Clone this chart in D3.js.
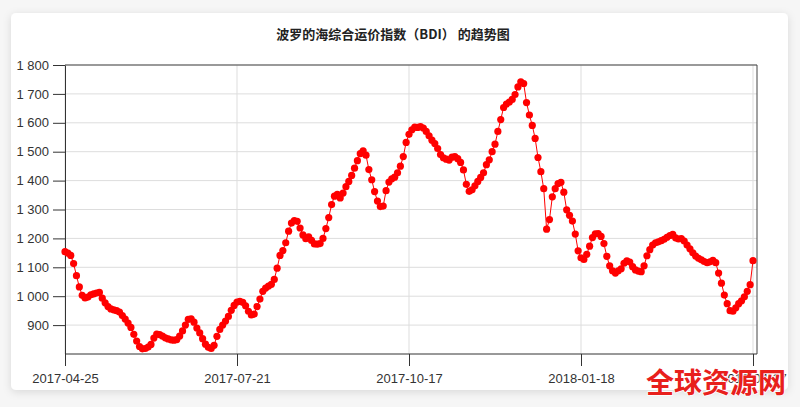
<!DOCTYPE html>
<html>
<head>
<meta charset="utf-8">
<title>BDI</title>
<script src="https://cdn.jsdelivr.net/npm/d3@7"></script>
<style>
  html, body { margin: 0; padding: 0; background: #f6f6f6; }
  svg { display: block; }
  .axis text { font-family: "Liberation Sans", Arial, sans-serif; font-size: 13px; fill: #333; }
  .axis path, .axis line { stroke: #333; }
</style>
</head>
<body>
<div id="chart"></div>
<script>
// data: BDI daily values, one per trading day
const bdiValues = [
  1154, 1149, 1141, 1113, 1071, 1032, 1003, 994, 997, 1005,
  1008, 1011, 1013, 993, 977, 964, 956, 953, 950, 945,
  933, 921, 907, 892, 868, 845, 826, 818, 819, 824,
  833, 855, 869, 867, 862, 856, 852, 849, 848, 850,
  862, 880, 900, 920, 922, 910, 890, 873, 853, 834,
  823, 819, 830, 861, 885, 900, 914, 930, 951, 968,
  980, 982, 979, 967, 948, 935, 938, 964, 990, 1017,
  1028, 1035, 1041, 1058, 1097, 1141, 1158, 1185, 1225, 1253,
  1262, 1259, 1236, 1212, 1199, 1205, 1193, 1181, 1180, 1182,
  1200, 1234, 1272, 1317, 1346, 1352, 1340, 1357, 1379, 1397,
  1418, 1443, 1469, 1493, 1503, 1488, 1438, 1403, 1362, 1329,
  1310, 1312, 1365, 1395, 1406, 1412, 1427, 1450, 1483, 1532,
  1560, 1576, 1585, 1584, 1587, 1582, 1570, 1555, 1540, 1528,
  1511, 1490, 1479, 1474, 1471, 1481, 1483, 1476, 1463, 1437,
  1387, 1363, 1368, 1382, 1397, 1411, 1427, 1455, 1472, 1500,
  1526, 1570, 1611, 1653, 1665, 1672, 1681, 1698, 1724, 1742,
  1736, 1670, 1627, 1591, 1546, 1480, 1431, 1372, 1232, 1265,
  1344, 1372, 1390, 1394, 1360, 1299, 1280, 1260, 1215, 1157,
  1133, 1127, 1145, 1173, 1203, 1216, 1217, 1207, 1182, 1138,
  1105, 1088, 1080, 1088, 1095, 1114, 1122, 1118, 1102, 1091,
  1087, 1085, 1105, 1140, 1161, 1177, 1185, 1188, 1192, 1197,
  1204, 1210, 1214, 1202, 1198, 1199, 1191, 1177, 1164, 1150,
  1139, 1131, 1126, 1120, 1116, 1119, 1124, 1116, 1080, 1045,
  1004, 974, 950, 948, 960, 974, 984, 998, 1017, 1040,
  1123,
]
const xTickIndex = [0, 60, 120, 180, 240]
const xTickLabels = ['2017-04-25', '2017-07-21', '2017-10-17', '2018-01-18', '2018-04-17']
const yTicks = [900, 1000, 1100, 1200, 1300, 1400, 1500, 1600, 1700, 1800]
const yDomain = [800, 1800]
const titleText = '波罗的海综合运价指数（BDI） 的趋势图'
const watermarkText = '全球资源网'

// Dimensions
const dimensions = {
  width: 800,
  height: 407,
  margins: { left: 65, top: 65, right: 43, bottom: 53 },
}
const ctrW = dimensions.width - dimensions.margins.left - dimensions.margins.right
const ctrH = dimensions.height - dimensions.margins.top - dimensions.margins.bottom

// Scales
const xScale = d3.scaleLinear().domain([0, bdiValues.length - 1]).range([0, ctrW - 4])
const yScale = d3.scaleLinear().domain(yDomain).range([ctrH, 0])

const fmt = d3.formatLocale({ decimal: '.', thousands: ' ', grouping: [3], currency: ['', ''] }).format(',d')

const svg = d3.select('#chart').append('svg')
  .attr('width', dimensions.width)
  .attr('height', dimensions.height)

// card with soft shadow
const defs = svg.append('defs')
const filter = defs.append('filter').attr('id', 'shadow').attr('x', '-5%').attr('y', '-5%').attr('width', '110%').attr('height', '115%')
filter.append('feDropShadow').attr('dx', 0).attr('dy', 2).attr('stdDeviation', 4).attr('flood-color', '#000').attr('flood-opacity', 0.12)

svg.append('rect')
  .attr('x', 11).attr('y', 13)
  .attr('width', 777).attr('height', 377)
  .attr('rx', 5)
  .attr('fill', '#fff')
  .attr('filter', 'url(#shadow)')

svg.append('text')
  .attr('x', 393).attr('y', 39)
  .attr('text-anchor', 'middle')
  .style('font-family', '"Noto Sans CJK SC", sans-serif')
  .style('font-weight', 'bold')
  .style('font-size', '13px')
  .style('fill', '#222')
  .text(titleText)

const ctr = svg.append('g').attr('transform', `translate(${dimensions.margins.left}, ${dimensions.margins.top})`)

// gridlines
ctr.append('g').selectAll('line')
  .data(yTicks)
  .join('line')
  .attr('x1', 0).attr('x2', ctrW)
  .attr('y1', (d) => yScale(d)).attr('y2', (d) => yScale(d))
  .attr('stroke', '#ddd')

ctr.append('g').selectAll('line')
  .data(xTickIndex)
  .join('line')
  .attr('x1', (d) => xScale(d)).attr('x2', (d) => xScale(d))
  .attr('y1', 0).attr('y2', ctrH)
  .attr('stroke', '#ddd')

// frame
ctr.append('line').attr('x1', 0).attr('x2', ctrW).attr('y1', 0).attr('y2', 0).attr('stroke', '#444')
ctr.append('line').attr('x1', ctrW).attr('x2', ctrW).attr('y1', 0).attr('y2', ctrH).attr('stroke', '#444')

// Axes
const yAxis = d3.axisLeft(yScale).tickValues(yTicks).tickFormat(fmt).tickSize(12).tickPadding(4).tickSizeOuter(0)
ctr.append('g').classed('axis', true).call(yAxis)

const xAxis = d3.axisBottom(xScale)
  .tickValues(xTickIndex)
  .tickFormat((d, i) => xTickLabels[i])
  .tickSize(12).tickPadding(8).tickSizeOuter(0)
const xAxisGroup = ctr.append('g').classed('axis', true).attr('transform', `translate(0, ${ctrH})`).call(xAxis)
xAxisGroup.select('.domain').attr('d', `M0,0H${ctrW}`)

// line + dots
const line = d3.line().x((d, i) => xScale(i)).y((d) => yScale(d))
ctr.append('path')
  .datum(bdiValues)
  .attr('d', line)
  .attr('fill', 'none')
  .attr('stroke', '#f00')
  .attr('stroke-width', 1)

ctr.append('g').selectAll('circle')
  .data(bdiValues)
  .join('circle')
  .attr('cx', (d, i) => xScale(i))
  .attr('cy', (d) => yScale(d))
  .attr('r', 3.6)
  .attr('fill', '#f00')

// watermark
svg.append('text')
  .attr('x', 646).attr('y', 393)
  .style('font-family', '"Noto Sans CJK SC", sans-serif')
  .style('font-weight', 'bold')
  .style('font-size', '28px')
  .style('fill', '#e8201c')
  .style('stroke', '#fff')
  .style('stroke-width', 1.5)
  .style('paint-order', 'stroke')
  .text(watermarkText)
</script>
</body>
</html>
